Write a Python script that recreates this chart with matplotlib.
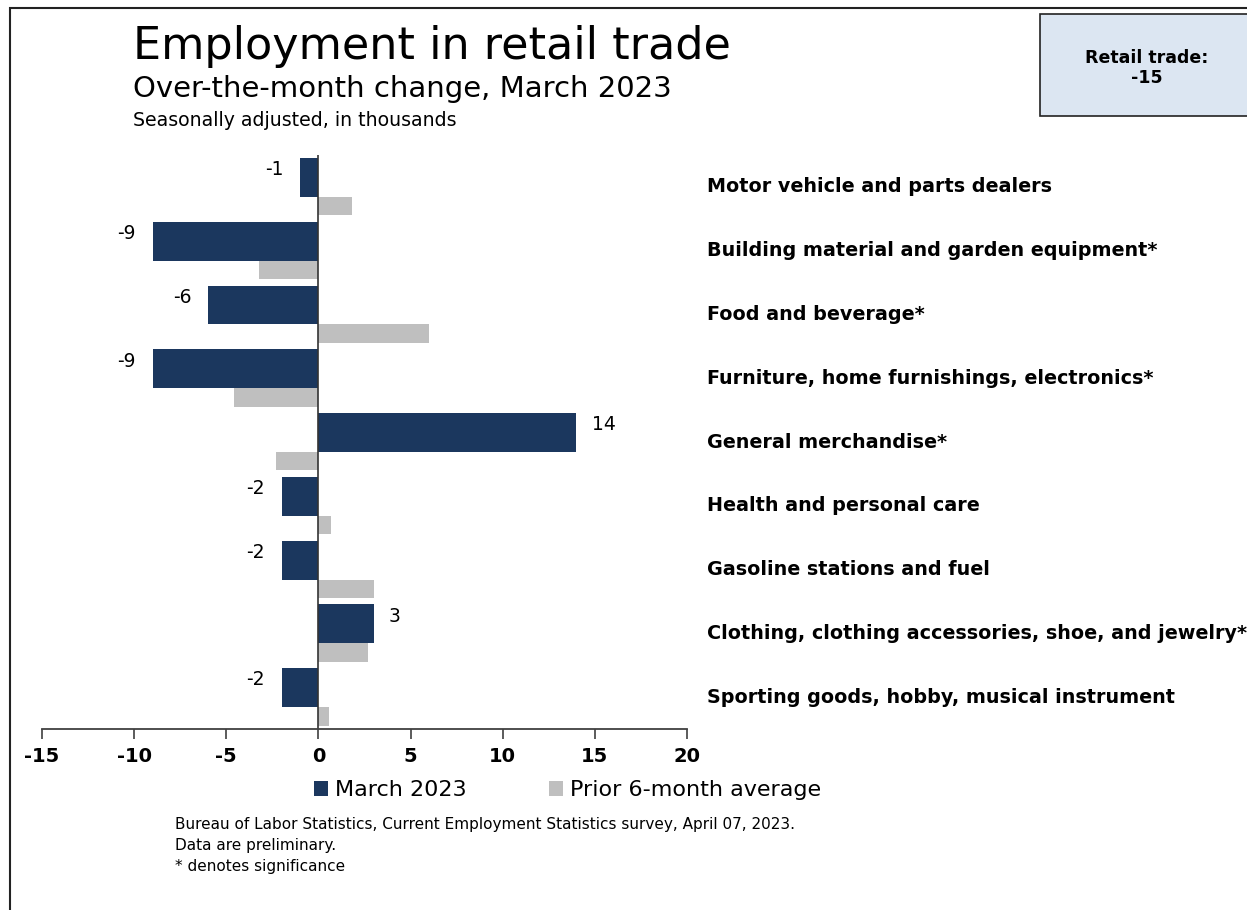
import matplotlib.pyplot as plt
import matplotlib.transforms as mtransforms
from matplotlib.patches import Rectangle
import numpy as np

# over-the-month change, thousands (seasonally adjusted)
categories = [
    'Motor vehicle and parts dealers',
    'Building material and garden equipment*',
    'Food and beverage*',
    'Furniture, home furnishings, electronics*',
    'General merchandise*',
    'Health and personal care',
    'Gasoline stations and fuel',
    'Clothing, clothing accessories, shoe, and jewelry*',
    'Sporting goods, hobby, musical instrument',
]
march_2023 = [-1, -9, -6, -9, 14, -2, -2, 3, -2]
prior_6mo_avg = [1.8, -3.2, 6.0, -4.6, -2.3, 0.7, 3.0, 2.7, 0.6]
xticks = [-15, -10, -5, 0, 5, 10, 15, 20]
retail_total = -15

navy = '#1b375e'
grey = '#bfbfbf'

W, H = 1247, 910
fig = plt.figure(figsize=(W / 100, H / 100), dpi=100)
ax = fig.add_axes([42 / W, 1 - 729 / H, 645 / W, 574 / H])

pos = np.arange(len(categories))
ax.barh(pos + 3 / 64, march_2023, height=39 / 64, align='edge', color=navy, label='March 2023')
ax.barh(pos + 42 / 64, prior_6mo_avg, height=18.5 / 64, align='edge', color=grey,
        label='Prior 6-month average')

ax.set_xlim(-15, 20)
ax.set_ylim(len(categories), 0)
ax.axvline(0, color='#333333', lw=1.2)

for side in ['top', 'right', 'left']:
    ax.spines[side].set_visible(False)
ax.spines['bottom'].set_color('#404040')
ax.spines['bottom'].set_linewidth(1.3)
ax.set_yticks([])
ax.set_xticks(xticks)
ax.set_xticklabels([str(t) for t in xticks], fontsize=14, fontweight='bold')
ax.tick_params(axis='x', length=7, width=1.2, color='#404040', pad=6)

# value labels on the March bars
for i, v in enumerate(march_2023):
    off = -12 if v < 0 else 11
    ax.annotate(str(v), (v, i + 0.35), xytext=(off, 5.5), textcoords='offset points',
                ha='right' if v < 0 else 'left', va='center', fontsize=13.5)

# category names to the right of the plot
trans = mtransforms.blended_transform_factory(fig.transFigure, ax.transData)
for i, name in enumerate(categories):
    ax.text(707 / W, i + 0.5, name, transform=trans, ha='left', va='center',
            fontsize=13.8, fontweight='bold')

# titles
fig.text(133 / W, 1 - 47 / H, 'Employment in retail trade', fontsize=32, va='center')
fig.text(133 / W, 1 - 89 / H, 'Over-the-month change, March 2023', fontsize=21, va='center')
fig.text(133 / W, 1 - 121 / H, 'Seasonally adjusted, in thousands', fontsize=13.6, va='center')

# summary box
fig.patches.append(Rectangle((1040 / W, 1 - 116 / H), 300 / W, 102 / H, transform=fig.transFigure,
                             facecolor='#dce6f2', edgecolor='#222222', lw=1.2))
fig.text(1147 / W, 1 - 68 / H, 'Retail trade:\n%d' % retail_total, ha='center', va='center',
         fontsize=12.5, fontweight='bold', linespacing=1.15)

# outer frame
fig.patches.append(Rectangle((10 / W, -0.1), 1.2, 1.1 - 8 / H, transform=fig.transFigure,
                             facecolor='none', edgecolor='#222222', lw=1.5))

leg = fig.legend(loc='center left', bbox_to_anchor=(314 / W, 1 - 790 / H), ncol=2, frameon=False,
                 fontsize=16, handlelength=0.65, handleheight=0.65, handletextpad=0.3,
                 columnspacing=3.7, borderpad=0, borderaxespad=0)

fig.text(175 / W, 1 - 817 / H,
         'Bureau of Labor Statistics, Current Employment Statistics survey, April 07, 2023.\n'
         'Data are preliminary.\n'
         '* denotes significance', fontsize=11, va='top', linespacing=1.5)

fig.savefig('out.png', dpi=100)
